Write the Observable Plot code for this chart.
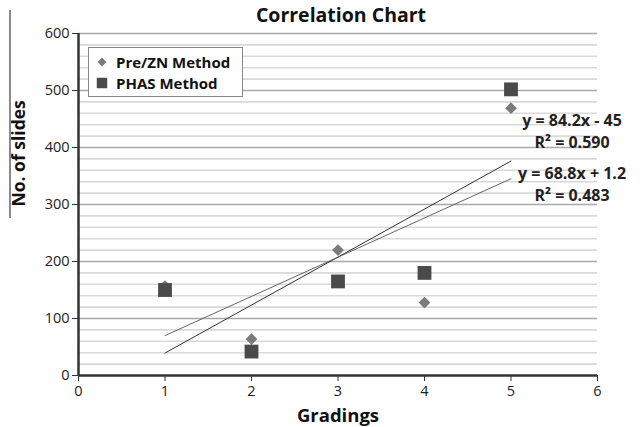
<!DOCTYPE html>
<html>
<head>
<meta charset="utf-8">
<script src="https://cdn.jsdelivr.net/npm/d3@7"></script>
<script src="https://cdn.jsdelivr.net/npm/@observablehq/plot@0.6"></script>
<style>
  html, body { margin: 0; padding: 0; background: #fff; }
  #wrap { position: relative; width: 640px; height: 427px; font-family: "Open Sans", Lato, sans-serif; }
  #title { height: 26px; line-height: 29px; text-align: center; font-weight: bold; font-size: 19.5px; color: #111; padding-left: 42px; box-sizing: border-box; }
  #legend { position: absolute; left: 88px; top: 47px; width: 155px; height: 50px; border: 1px solid #888; background: #fff; box-sizing: border-box; font-weight: bold; font-size: 15px; color: #111; }
  .lg { position: absolute; left: 6px; display: flex; align-items: center; line-height: 18px; }
  .lg svg { margin-right: 7px; }
  #scanline { position: absolute; left: 9px; top: 10px; width: 2px; height: 208px; background: #8a8a8a; }
</style>
</head>
<body>
<div id="wrap">
  <div id="title">Correlation Chart</div>
  <div id="chart"></div>
  <div id="legend"></div>
  <div id="scanline"></div>
</div>
<script>
// ---- data ----
const gradings = [1, 2, 3, 4, 5];
const preZN = [157, 64, 220, 128, 469];
const phas = [150, 42, 165, 180, 502];
const seriesNames = ["Pre/ZN Method", "PHAS Method"];
const seriesSymbols = ["diamond2", "square"];
const seriesColors = ["#7b7b7b", "#4a4a4a"];
const equations = ["y = 84.2x - 45\nR² = 0.590", "y = 68.8x + 1.2\nR² = 0.483"];
const xTicks = [0, 1, 2, 3, 4, 5, 6];
const yTicks = [0, 100, 200, 300, 400, 500, 600];
const yMinor = [20, 40, 60, 80, 120, 140, 160, 180, 220, 240, 260, 280, 320, 340, 360, 380, 420, 440, 460, 480, 520, 540, 560, 580];
const title = "Correlation Chart";
const xLabel = "Gradings";
const yLabel = "No. of slides";

const rows = [];
gradings.forEach((g, i) => {
  rows.push({series: seriesNames[0], x: g, y: preZN[i]});
  rows.push({series: seriesNames[1], x: g, y: phas[i]});
});
const preRows = rows.filter(d => d.series === seriesNames[0]);
const phasRows = rows.filter(d => d.series === seriesNames[1]);

const eqRows = [
  {text: equations[0], x: gradings[gradings.length - 1], y: phas[phas.length - 1]},
  {text: equations[1], x: gradings[gradings.length - 1], y: preZN[preZN.length - 1]}
];

const font = "'Open Sans', Lato, sans-serif";

const chart = Plot.plot({
  width: 640,
  height: 401,
  marginLeft: 78,
  marginRight: 43,
  marginTop: 7,
  marginBottom: 52,
  style: {fontFamily: font, fontSize: "14px", color: "#222", background: "transparent", overflow: "visible"},
  x: {domain: [0, 6], ticks: xTicks, tickFormat: "d"},
  y: {domain: [0, 600], ticks: yTicks, tickFormat: "d"},
  marks: [
    Plot.ruleY(yMinor, {stroke: "#d9d9d9", strokeWidth: 1.6}),
    Plot.ruleY(yTicks.filter(t => t > 0), {stroke: "#a8a8a8", strokeWidth: 1.4}),
    Plot.axisY({ticks: yTicks, tickFormat: "d", tickSize: 6, tickPadding: 3, label: null, fontSize: 14.5, stroke: "#333"}),
    Plot.axisX({ticks: xTicks, tickFormat: "d", tickSize: 6, tickPadding: 4, label: null, fontSize: 14.5, stroke: "#333"}),
    Plot.ruleX([0], {stroke: "#333", strokeWidth: 2.5}),
    Plot.ruleY([0], {stroke: "#333", strokeWidth: 2.5}),
    Plot.linearRegressionY(phasRows, {x: "x", y: "y", ci: 0, stroke: "#333", strokeWidth: 1}),
    Plot.linearRegressionY(preRows, {x: "x", y: "y", ci: 0, stroke: "#555", strokeWidth: 0.9}),
    Plot.dot(preRows, {x: "x", y: "y", symbol: seriesSymbols[0], r: 5.3, fill: seriesColors[0]}),
    Plot.dot(phasRows, {x: "x", y: "y", symbol: seriesSymbols[1], r: 7.8, fill: seriesColors[1]}),
    Plot.text(eqRows.slice(0, 1), {x: "x", y: "y", text: "text", dx: 61, dy: 41, lineHeight: 1.35, fontSize: 16, fontWeight: "bold", fill: "#222", textAnchor: "middle"}),
    Plot.text(eqRows.slice(1), {x: "x", y: "y", text: "text", dx: 61, dy: 75, lineHeight: 1.35, fontSize: 16, fontWeight: "bold", fill: "#222", textAnchor: "middle"}),
    Plot.text([xLabel], {frameAnchor: "bottom", dy: 46, fontSize: 18.5, fontWeight: "bold", fill: "#111"}),
    Plot.text([yLabel], {frameAnchor: "left", rotate: -90, dx: -59, dy: 2, fontSize: 17.5, fontWeight: "bold", fill: "#111"})
  ]
});
document.getElementById("chart").appendChild(chart);
document.getElementById("title").textContent = title;

// legend
const legend = d3.select("#legend");
seriesNames.forEach((name, i) => {
  const item = legend.append("div").attr("class", "lg").style("top", (i === 0 ? 5 : 26) + "px");
  const s = item.append("svg").attr("width", 14).attr("height", 14);
  const sym = d3.symbol(i === 0 ? d3.symbolDiamond2 : d3.symbolSquare, i === 0 ? 50 : 110);
  s.append("path").attr("d", sym()).attr("transform", "translate(7,7)").attr("fill", seriesColors[i]);
  item.append("span").text(name);
});
</script>
</body>
</html>
